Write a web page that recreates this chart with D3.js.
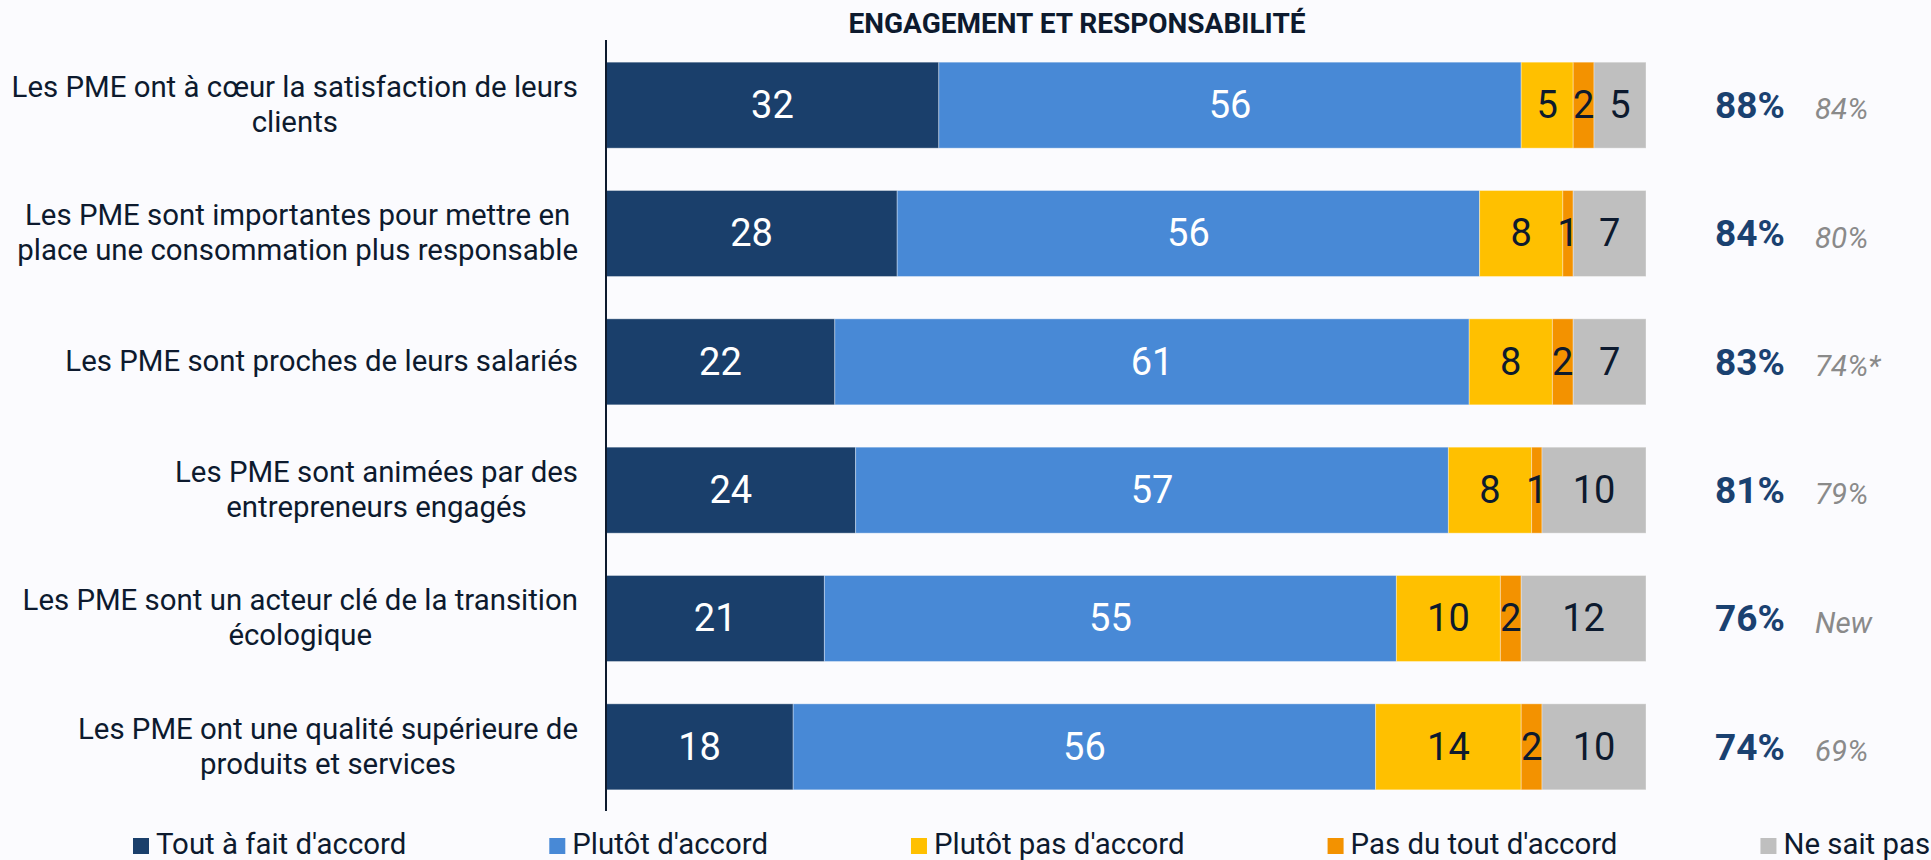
<!DOCTYPE html>
<html>
<head>
<meta charset="utf-8">
<script src="https://cdn.jsdelivr.net/npm/d3@7"></script>
<style>
  html, body { margin: 0; padding: 0; background: #fbfbfe; }
  svg { display: block; font-family: Roboto, "Noto Sans", sans-serif; }
</style>
</head>
<body>
<svg id="chart" width="1931" height="860"></svg>
<script>
const title = "ENGAGEMENT ET RESPONSABILITÉ";
const categories = [
  ["Les PME ont à cœur la satisfaction de leurs", "clients"],
  ["Les PME sont importantes pour mettre en", "place une consommation plus responsable"],
  ["Les PME sont proches de leurs salariés"],
  ["Les PME sont animées par des", "entrepreneurs engagés"],
  ["Les PME sont un acteur clé de la transition", "écologique"],
  ["Les PME ont une qualité supérieure de", "produits et services"]
];
const seriesNames = ["Tout à fait d'accord", "Plutôt d'accord", "Plutôt pas d'accord", "Pas du tout d'accord", "Ne sait pas"];
const toutAFait   = [32, 28, 22, 24, 21, 18];
const plutot      = [56, 56, 61, 57, 55, 56];
const plutotPas   = [5, 8, 8, 8, 10, 14];
const pasDuTout   = [2, 1, 2, 1, 2, 2];
const neSaitPas   = [5, 7, 7, 10, 12, 10];
const totals      = ["88%", "84%", "83%", "81%", "76%", "74%"];
const previous    = ["84%", "80%", "74%*", "79%", "New", "69%"];

const colors = ["#1a3f6b", "#4889d6", "#ffc000", "#f39200", "#bfbfbf"];
const labelColors = ["#ffffff", "#ffffff", "#0d1a2e", "#0d1a2e", "#0d1a2e"];
const textDark = "#0d1a2e";

const series = [toutAFait, plutot, plutotPas, pasDuTout, neSaitPas];
const rows = categories.map((c, i) => {
  const r = { idx: i };
  seriesNames.forEach((s, k) => r[s] = series[k][i]);
  return r;
});
const stacked = d3.stack().keys(seriesNames)(rows);

const svg = d3.select("#chart");

const x = d3.scaleLinear().domain([0, 100]).range([606, 1646]);
const y = d3.scaleBand().domain(d3.range(categories.length)).range([41, 811])
  .paddingInner(0.33).paddingOuter(0.165);

// title
svg.append("text")
  .attr("x", 1077).attr("y", 33)
  .attr("text-anchor", "middle")
  .attr("font-size", 28).attr("font-weight", 700)
  .attr("fill", textDark)
  .text(title);

// bars
const layer = svg.append("g").selectAll("g").data(stacked).join("g")
  .attr("fill", (d, i) => colors[i]);
layer.selectAll("rect").data(d => d).join("rect")
  .attr("x", d => x(d[0]))
  .attr("y", (d, i) => y(i))
  .attr("width", d => x(d[1]) - x(d[0]))
  .attr("height", y.bandwidth())
  .attr("stroke", "#ffffff").attr("stroke-opacity", 0.35).attr("stroke-width", 1);

// values in bars
svg.append("g").selectAll("g").data(stacked).join("g")
  .attr("fill", (d, i) => labelColors[i])
  .selectAll("text").data(d => d).join("text")
  .attr("x", d => (x(d[0]) + x(d[1])) / 2)
  .attr("y", (d, i) => y(i) + y.bandwidth() / 2)
  .attr("dy", "0.34em")
  .attr("text-anchor", "middle")
  .attr("font-size", 38)
  .text(d => d[1] - d[0]);

// axis line
const yAxis = d3.axisLeft(y).tickSize(0).tickFormat("");
const axG = svg.append("g").attr("transform", "translate(606,0)").call(yAxis);
axG.select(".domain").attr("stroke", textDark).attr("stroke-width", 2)
  .attr("d", "M0,40V811");

// category labels
const labG = svg.append("g");
categories.forEach((lines, i) => {
  const cy = y(i) + y.bandwidth() / 2;
  const g = labG.append("g");
  const texts = lines.map((ln, j) => g.append("text")
    .attr("y", cy + (j - (lines.length - 1) / 2) * 35)
    .attr("dy", "0.32em")
    .attr("text-anchor", "middle")
    .attr("font-size", 29.4)
    .attr("fill", textDark)
    .text(ln));
  const maxW = d3.max(texts, t => t.node().getComputedTextLength());
  texts.forEach(t => t.attr("x", 578 - maxW / 2));
});

// totals
svg.append("g").selectAll("text").data(totals).join("text")
  .attr("x", 1715)
  .attr("y", (d, i) => y(i) + y.bandwidth() / 2)
  .attr("dy", "0.35em")
  .attr("font-size", 37).attr("font-weight", 700)
  .attr("fill", "#1a4170")
  .text(d => d);

svg.append("g").selectAll("text").data(previous).join("text")
  .attr("x", 1815)
  .attr("y", (d, i) => y(i) + y.bandwidth() / 2)
  .attr("dy", "0.48em")
  .attr("font-size", 29.5).attr("font-style", "italic")
  .attr("fill", "#8a8a8a")
  .text(d => d);

// legend
let lx = 133;
const legG = svg.append("g");
seriesNames.forEach((s, i) => {
  legG.append("rect").attr("x", lx).attr("y", 838).attr("width", 16).attr("height", 16)
    .attr("fill", colors[i]);
  const t = legG.append("text").attr("x", lx + 23).attr("y", 854)
    .attr("font-size", 29.4).attr("fill", textDark).text(s);
  lx += 23 + t.node().getComputedTextLength() + 143;
});
</script>
</body>
</html>
